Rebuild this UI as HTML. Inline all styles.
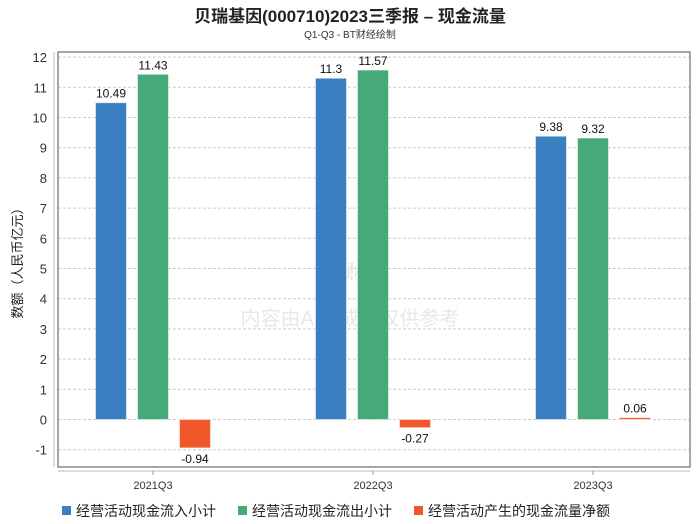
<!DOCTYPE html>
<html><head><meta charset="utf-8"><style>
body{margin:0;background:#fff;font-family:"Liberation Sans","Noto Sans CJK SC",sans-serif;}
#wrap{position:relative;width:700px;height:524px;overflow:hidden;}
</style></head><body>
<div id="wrap">
<svg id="chart" width="700" height="524" xmlns="http://www.w3.org/2000/svg">
<text x="350" y="22" text-anchor="middle" font-size="17" font-weight="bold" fill="#222" font-family="Liberation Sans,Noto Sans CJK SC,sans-serif">贝瑞基因(000710)2023三季报 – 现金流量</text>
<text x="350" y="38" text-anchor="middle" font-size="10" fill="#333" font-family="Liberation Sans,Noto Sans CJK SC,sans-serif">Q1-Q3 - BT财经绘制</text>
<g id="grid"></g>
<text x="350" y="280" text-anchor="middle" font-size="22" font-weight="bold" fill="#e6eaef" font-family="Liberation Serif,Noto Serif CJK SC,serif">BT财经</text>
<text x="350" y="325" text-anchor="middle" font-size="20" fill="#e8e8e8" font-family="Liberation Sans,Noto Sans CJK SC,sans-serif">内容由AI生成，仅供参考</text>
<rect x="58" y="52" width="632" height="415" fill="none" stroke="#888" stroke-width="1.5"/>
<line x1="54" y1="52" x2="54" y2="467" stroke="#bbb"/>
<line x1="58" y1="471" x2="690" y2="471" stroke="#bbb"/>
<text transform="translate(22,260) rotate(-90)" text-anchor="middle" font-size="13" fill="#222" font-family="Liberation Sans,Noto Sans CJK SC,sans-serif">数额（人民币亿元）</text>
<g id="bars"></g>
<g id="legend"></g>
</svg>
</div>
<script>
const categories=["2021Q3","2022Q3","2023Q3"];
const seriesNames=["经营活动现金流入小计","经营活动现金流出小计","经营活动产生的现金流量净额"];
const inflow=[10.49,11.3,9.38];
const outflow=[11.43,11.57,9.32];
const netflow=[-0.94,-0.27,0.06];
const labelsIn=["10.49","11.3","9.38"];
const labelsOut=["11.43","11.57","9.32"];
const labelsNet=["-0.94","-0.27","0.06"];
const yTicks=[-1,0,1,2,3,4,5,6,7,8,9,10,11,12];
const colors=["#3a80c1","#46aa78","#f0582a"];
const NS="http://www.w3.org/2000/svg";
const y=v=>419.5-v*30.2;
const gx=i=>153+i*220;
function mk(t,a,p){const e=document.createElementNS(NS,t);for(const k in a)e.setAttribute(k,a[k]);p.appendChild(e);return e;}
const grid=document.getElementById('grid');
yTicks.forEach(t=>{
 const l=mk('line',{x1:58,x2:690,y1:y(t),y2:y(t),stroke:'#ccc','stroke-dasharray':'3,2'},grid);
 
 
 const tx=mk('text',{x:47,y:y(t)+5,'text-anchor':'end','font-size':13,fill:'#333'},grid);
 tx.textContent=t;
 
 
});
const bars=document.getElementById('bars');
const series=[inflow,outflow,netflow];
const labels=[labelsIn,labelsOut,labelsNet];
categories.forEach((c,i)=>{
 series.forEach((s,j)=>{
  const v=s[i];const x=gx(i)+(j-1)*42-15.5;
  const top=Math.min(y(v),y(0));const h=Math.abs(y(v)-y(0));
  const r=mk('rect',{x:x,y:top,width:31,height:h,fill:colors[j],stroke:'#fff','stroke-opacity':0.5},bars);
  
  
  const ly=v>=0?y(v)-5:y(v)+15;
  const t=mk('text',{x:x+15.5,y:ly,'text-anchor':'middle','font-size':12,fill:'#111'},bars);
  t.textContent=labels[j][i];
  
  
 });
 const tk=mk('line',{x1:gx(i),x2:gx(i),y1:471,y2:475,stroke:'#999'},bars);
 
 
 const xl=mk('text',{x:gx(i),y:489,'text-anchor':'middle','font-size':11,fill:'#333'},bars);
 xl.textContent=c;
 
 
});
const lg=document.getElementById('legend');
const lx=[62,238,414];
seriesNames.forEach((n,j)=>{
 const r=mk('rect',{x:lx[j],y:506,width:9,height:9,fill:colors[j]},lg);
 
 
 const t=mk('text',{x:lx[j]+14,y:516,'font-size':14,fill:'#222'},lg);
 t.textContent=n;
 
 
});
</script>
</body></html>
